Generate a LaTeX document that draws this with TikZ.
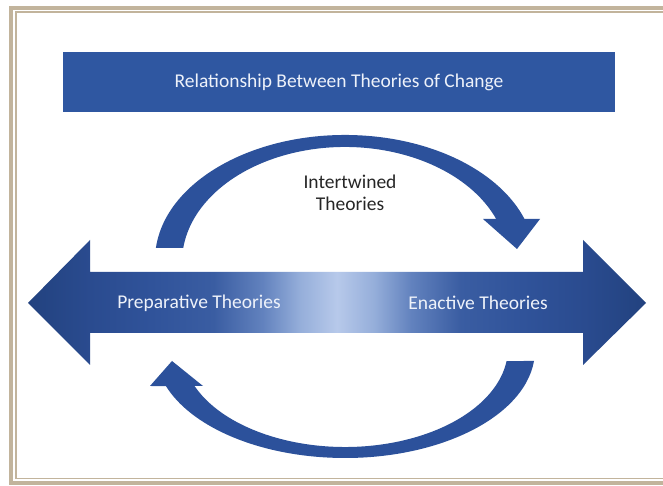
\documentclass[tikz,border=0pt]{standalone}
\usepackage{fontspec}
\setmainfont{Carlito}
\definecolor{framec}{HTML}{C2B49C}
\definecolor{titlec}{HTML}{2F57A1}
\definecolor{arcc}{HTML}{2C519B}
\definecolor{sa}{HTML}{22427F}
\definecolor{sb}{HTML}{2A4B8F}
\definecolor{sc}{HTML}{30539A}
\definecolor{sd}{HTML}{3A5DA2}
\definecolor{se}{HTML}{6282BE}
\definecolor{sf}{HTML}{95AEDA}
\definecolor{sg}{HTML}{B7C9EA}
\definecolor{lbl}{HTML}{EEF2FA}
\pgfdeclarehorizontalshading{dblshade}{100bp}{color(0bp)=(sa); color(25bp)=(sa); color(30bp)=(sb); color(35bp)=(sc); color(40bp)=(sd); color(44bp)=(se); color(47bp)=(sf); color(50bp)=(sg); color(53bp)=(sf); color(56bp)=(se); color(60bp)=(sd); color(65bp)=(sc); color(70bp)=(sb); color(75bp)=(sa); color(100bp)=(sa)}
\tikzset{
  lbltext/.style={font=\fontsize{19.5}{22}\selectfont, text=lbl, inner sep=0pt, align=center},
  darktext/.style={font=\fontsize{19.5}{22}\selectfont, text=black!85, inner sep=0pt, align=center},
  arcshape/.style={fill=arcc, draw=none},
}
\begin{document}
\begin{tikzpicture}[x=1pt,y=1pt]
\useasboundingbox (0,0) rectangle (663,486);
\fill[white] (0,0) rectangle (663,486);
% frame
\draw[framec, line width=4pt] (11.3,3) rectangle (680,478);
\draw[framec, line width=1.5pt] (15.8,7.5) rectangle (680,474.2);
% title bar
\node[fill=titlec, minimum width=552pt, minimum height=60pt, inner sep=0pt] (title) at (339,404) {};
\node[lbltext] (titletext) at (339,404) {Relationship Between Theories of Change};
% double arrow
\path[shading=dblshade] (28,183) -- (90,246) -- (90,214) -- (583,214) -- (583,246) -- (646,183) -- (583,121) -- (583,153) -- (90,153) -- (90,121) -- cycle;
\node[lbltext] (prep) at (199,183) {Preparative Theories};
\node[lbltext] (enact) at (478,183) {Enactive Theories};
% top curved arrow
\path[arcshape] (155.9,238) arc[start angle=174.5, end angle=19.15, x radius=190, y radius=125]
  -- (540,267) -- (517,237) -- (483,267) -- (496.2,267)
  arc[start angle=21.95, end angle=173.01, x radius=163, y radius=115] -- cycle;
% bottom curved arrow
\path[arcshape] (534,125) arc[start angle=-5.85, end angle=-160.5, x radius=190, y radius=108]
  -- (150,100) -- (172,125) -- (203,100) -- (194.5,100)
  arc[start angle=-157.43, end angle=-7.55, x radius=163, y radius=99] -- cycle;
\node[darktext] (inter) at (350,293.5) {Intertwined\\Theories};
\end{tikzpicture}
\end{document}
